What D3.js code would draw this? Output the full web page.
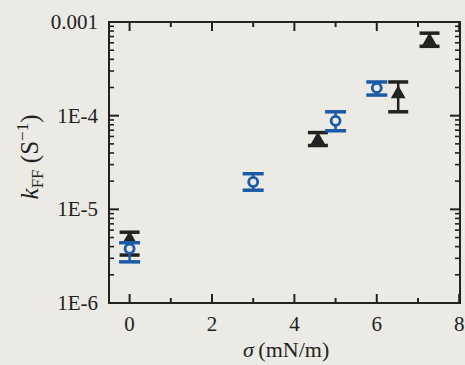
<!DOCTYPE html>
<html lang="en">
<head>
    <meta charset="UTF-8">
    <title>kFF vs sigma</title>
    <script src="https://d3js.org/d3.v7.min.js"></script>
    <style>
        html, body{
            margin:0;
            width:100%;
            height:100%;
            background:#ebeae4;
        }
        svg text{
            font-family: "Liberation Serif", "DejaVu Serif", serif;
            fill:#222;
        }
    </style>
</head>
<body>
<div id="chart"></div>
<script>
    // blue open circles
    var blueX   = [0, 3, 5, 6];
    var blueY   = [3.8e-6, 1.96e-5, 8.8e-5, 1.98e-4];
    var blueLo  = [2.75e-6, 1.6e-5, 6.9e-5, 1.66e-4];
    var blueHi  = [4.4e-6, 2.4e-5, 1.1e-4, 2.29e-4];

    // black filled triangles
    var blackX  = [0, 4.57, 6.52, 7.28];
    var blackY  = [4.9e-6, 5.6e-5, 1.75e-4, 6.4e-4];
    var blackLo = [3.25e-6, 4.8e-5, 1.1e-4, 5.5e-4];
    var blackHi = [5.7e-6, 6.6e-5, 2.29e-4, 7.6e-4];

    var xTicks = [0, 2, 4, 6, 8];
    var xMinor = [1, 3, 5, 7];
    var yTicks = [1e-6, 1e-5, 1e-4, 1e-3];
    var yTickLabels = ["1E-6", "1E-5", "1E-4", "0.001"];

    var W = 465, H = 365;
    var margin = {top: 22, right: 5, bottom: 62, left: 109};
    var width = W - margin.left - margin.right,
        height = H - margin.top - margin.bottom;

    var ink = "#222", blue = "#1c5aa6", paper = "#ebeae4";

    var x = d3.scaleLinear().domain([-0.5, 8.02]).range([0, width]);
    var y = d3.scaleLog().domain([1e-6, 1e-3]).range([height, 0]);

    var svg = d3.select("#chart").append("svg")
        .attr("width", W).attr("height", H);
    var g = svg.append("g")
        .attr("transform", "translate(" + margin.left + "," + margin.top + ")");

    // minor log ticks 2..9 each decade
    var yMinor = [];
    yTicks.slice(0, 3).forEach(function(d) {
        for (var k = 2; k <= 9; k++) yMinor.push(d * k);
    });

    // bottom + top x ticks (inward)
    [[height, -1], [0, 1]].forEach(function(p) {
        g.selectAll(null).data(xTicks).enter().append("line")
            .attr("x1", function(d) { return x(d); }).attr("x2", function(d) { return x(d); })
            .attr("y1", p[0]).attr("y2", p[0] + p[1] * 9)
            .attr("stroke", ink).attr("stroke-width", 2);
        g.selectAll(null).data(xMinor).enter().append("line")
            .attr("x1", function(d) { return x(d); }).attr("x2", function(d) { return x(d); })
            .attr("y1", p[0]).attr("y2", p[0] + p[1] * 5)
            .attr("stroke", ink).attr("stroke-width", 2);
    });

    // left + right y ticks (inward)
    [[0, 1], [width, -1]].forEach(function(p) {
        g.selectAll(null).data(yTicks).enter().append("line")
            .attr("y1", function(d) { return y(d); }).attr("y2", function(d) { return y(d); })
            .attr("x1", p[0]).attr("x2", p[0] + p[1] * 10)
            .attr("stroke", ink).attr("stroke-width", 2);
        g.selectAll(null).data(yMinor).enter().append("line")
            .attr("y1", function(d) { return y(d); }).attr("y2", function(d) { return y(d); })
            .attr("x1", p[0]).attr("x2", p[0] + p[1] * 5)
            .attr("stroke", ink).attr("stroke-width", 1.6);
    });

    // frame
    g.append("rect").attr("width", width).attr("height", height)
        .attr("fill", "none").attr("stroke", ink).attr("stroke-width", 2);

    // tick labels
    g.selectAll(null).data(xTicks).enter().append("text")
        .attr("x", function(d) { return x(d); })
        .attr("y", height + 28)
        .attr("text-anchor", "middle")
        .style("font-size", "21px")
        .text(function(d) { return d; });

    g.selectAll(null).data(yTicks).enter().append("text")
        .attr("x", -11)
        .attr("y", function(d) { return y(d) + 7; })
        .attr("text-anchor", "end")
        .style("font-size", "21px")
        .text(function(d, i) { return yTickLabels[i]; });

    // axis titles
    var xl = svg.append("text")
        .attr("x", margin.left + x(3.8)).attr("y", 357)
        .attr("text-anchor", "middle")
        .style("font-size", "22px");
    xl.append("tspan").style("font-style", "italic").text("\u03c3");
    xl.append("tspan").text("\u2009(mN/m)");

    var yl = svg.append("text")
        .attr("transform", "translate(38,157) rotate(-90)")
        .attr("text-anchor", "middle")
        .style("font-size", "25px");
    yl.append("tspan").style("font-style", "italic").text("k");
    yl.append("tspan").attr("dy", 5).style("font-size", "17px").text("FF");
    yl.append("tspan").attr("dy", -5).text(" (S");
    yl.append("tspan").attr("dy", -10).style("font-size", "17px").text("\u22121");
    yl.append("tspan").attr("dy", 10).text(")");

    // error bars
    function errorBars(xs, ys, lo, hi, color, capW) {
        var data = xs.map(function(d, i) { return {x: d, y: ys[i], lo: lo[i], hi: hi[i]}; });
        var eg = g.append("g");
        eg.selectAll(null).data(data).enter().append("line")
            .attr("x1", function(d) { return x(d.x); }).attr("x2", function(d) { return x(d.x); })
            .attr("y1", function(d) { return y(d.lo); }).attr("y2", function(d) { return y(d.hi); })
            .attr("stroke", color).attr("stroke-width", 2.5);
        ["lo", "hi"].forEach(function(k) {
            eg.selectAll(null).data(data).enter().append("line")
                .attr("x1", function(d) { return x(d.x) - capW / 2; })
                .attr("x2", function(d) { return x(d.x) + capW / 2; })
                .attr("y1", function(d) { return y(d[k]); }).attr("y2", function(d) { return y(d[k]); })
                .attr("stroke", color).attr("stroke-width", 3.5);
        });
        return data;
    }

    var bd = errorBars(blackX, blackY, blackLo, blackHi, ink, 20);
    var tri = d3.symbol().type(d3.symbolTriangle).size(95);
    g.selectAll(null).data(bd).enter().append("path")
        .attr("d", tri)
        .attr("transform", function(d) { return "translate(" + x(d.x) + "," + (y(d.y) + 1) + ")"; })
        .attr("fill", ink);

    var bl = errorBars(blueX, blueY, blueLo, blueHi, blue, 21);
    g.selectAll(null).data(bl).enter().append("circle")
        .attr("cx", function(d) { return x(d.x); })
        .attr("cy", function(d) { return y(d.y); })
        .attr("r", 4.5)
        .attr("fill", paper)
        .attr("stroke", blue).attr("stroke-width", 2.8);
</script>
</body>
</html>
